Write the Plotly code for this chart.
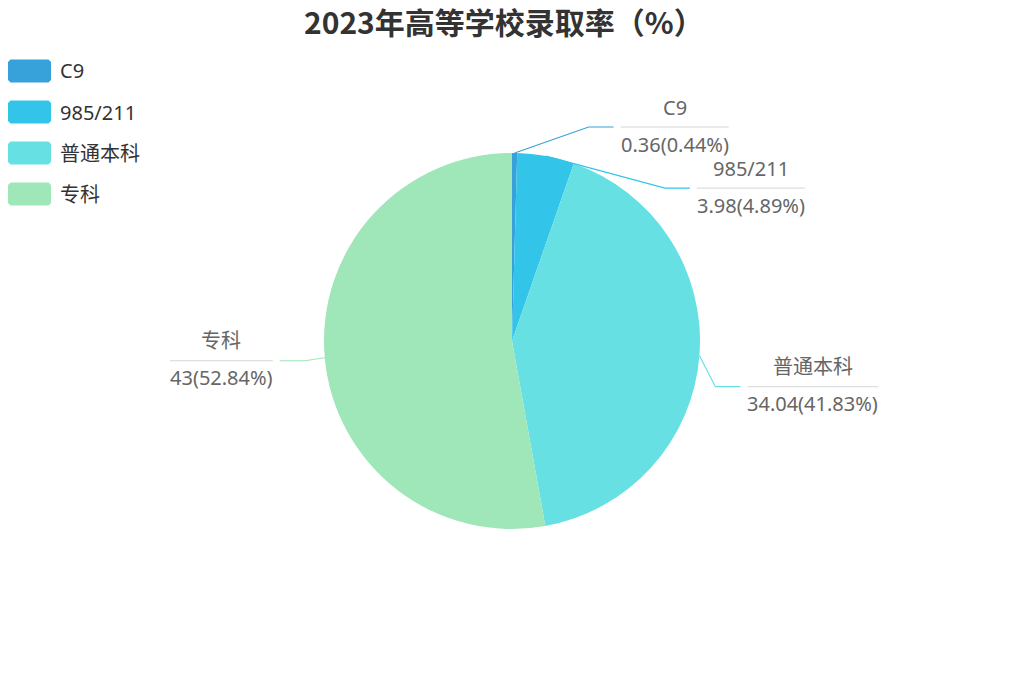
import math
import plotly.graph_objects as go

# ---- data ----
categories = ["C9", "985/211", "普通本科", "专科"]
values = [0.36, 3.98, 34.04, 43]
percents = ["0.44%", "4.89%", "41.83%", "52.84%"]
colors = ["#37a2da", "#32c5e9", "#67e0e3", "#9fe6b8"]
title_text = "2023年高等学校录取率（%）"

# ---- layout constants (pixels) ----
W, H = 1024, 683
CX, CY, R = 512, 341, 188
FONT = "Noto Sans, Noto Sans CJK SC, sans-serif"
TITLE_FONT = "Noto Sans CJK SC, Noto Sans, sans-serif"
LABEL_FS = 20
# elbow offsets from the slice edge point (label layout)
elbow_off = [(74, -26), (119, 32), (16, 31), (-20, 3)]
H_LEN = 25
GAP = 7


def px(x):
    return x / W


def py(y):
    return 1 - y / H


def text_w(s, fs):
    w = 0
    for ch in s:
        if ch.isdigit():
            w += 0.572
        elif ch == ".":
            w += 0.268
        elif ch in "()":
            w += 0.30
        elif ch == "%":
            w += 0.838
        elif ch == "/":
            w += 0.37
        elif ch == "C":
            w += 0.63
        elif ord(ch) > 0x2E80:
            w += 1.0
        else:
            w += 0.55
    return w * fs


def rounded_rect(x0, y0, x1, y1, r):
    # pixel coords in, paper coords out (chamfered corners approximating rounding)
    pts = [(x0 + r, y0), (x1 - r, y0), (x1, y0 + r), (x1, y1 - r),
           (x1 - r, y1), (x0 + r, y1), (x0, y1 - r), (x0, y0 + r)]
    return "M" + " L".join(f"{px(a):.5f},{py(b):.5f}" for a, b in pts) + " Z"


fig = go.Figure()
fig.add_trace(go.Pie(
    labels=categories, values=values, sort=False, direction="clockwise",
    rotation=0, marker=dict(colors=colors, line=dict(width=0)),
    textinfo="none", hoverinfo="label+value+percent", showlegend=False,
    domain=dict(x=[px(CX - R), px(CX + R)], y=[py(CY + R), py(CY - R)]),
))

shapes = []
annotations = []

total = sum(values)
cum = 0.0
for i, (cat, v, pct, col) in enumerate(zip(categories, values, percents, colors)):
    mid = (cum + v / 2) / total * 2 * math.pi
    cum += v
    ex = CX + R * math.sin(mid)
    ey = CY - R * math.cos(mid)
    dx, dy = elbow_off[i]
    bx, by = ex + dx, ey + dy
    side = 1 if dx >= 0 else -1
    endx = bx + side * H_LEN
    shapes.append(dict(type="path", xref="paper", yref="paper",
                       path=f"M{px(ex)},{py(ey)} L{px(bx)},{py(by)} L{px(endx)},{py(by)}",
                       line=dict(color=col, width=1.2)))
    vtxt = f"{v:g}({pct})"
    w = max(text_w(cat, LABEL_FS), text_w(vtxt, LABEL_FS))
    if side > 0:
        ux0, ux1 = endx + GAP, endx + GAP + w
    else:
        ux0, ux1 = endx - GAP - w, endx - GAP
    shapes.append(dict(type="line", xref="paper", yref="paper",
                       x0=px(ux0), x1=px(ux1), y0=py(by), y1=py(by),
                       line=dict(color="#d4d8d8", width=1)))
    ucx = (ux0 + ux1) / 2
    annotations.append(dict(x=px(ucx), y=py(by - 20), xref="paper", yref="paper",
                            text=cat, showarrow=False, xanchor="center", yanchor="middle",
                            font=dict(family=FONT, size=LABEL_FS, color="#666666")))
    annotations.append(dict(x=px(ucx), y=py(by + 17), xref="paper", yref="paper",
                            text=vtxt, showarrow=False, xanchor="center", yanchor="middle",
                            font=dict(family=FONT, size=LABEL_FS, color="#666666")))

# custom legend
for i, (cat, col) in enumerate(zip(categories, colors)):
    yc = 71 + 41 * i
    shapes.append(dict(type="path", xref="paper", yref="paper",
                       path=rounded_rect(8, yc - 11.5, 51, yc + 11.5, 2.5),
                       fillcolor=col, line=dict(width=0)))
    annotations.append(dict(x=px(58), y=py(yc), xref="paper", yref="paper", text=cat,
                            showarrow=False, xanchor="left", yanchor="middle",
                            font=dict(family=FONT, size=20, color="#333333")))

# title
annotations.append(dict(x=px(504), y=py(21), xref="paper", yref="paper",
                        text=f"<b>{title_text}</b>", showarrow=False,
                        xanchor="center", yanchor="middle",
                        font=dict(family=TITLE_FONT, size=30, color="#333333")))

fig.update_layout(
    width=W, height=H, margin=dict(l=0, r=0, t=0, b=0),
    paper_bgcolor="white", plot_bgcolor="white",
    shapes=shapes, annotations=annotations,
)

fig.write_html("out.html", config={"displayModeBar": False},
               post_script="document.body.style.margin='0';")
